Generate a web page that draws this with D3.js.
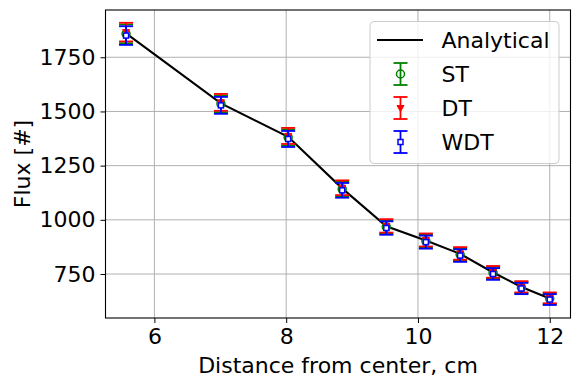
<!DOCTYPE html>
<html>
<head>
<meta charset="utf-8">
<script src="https://cdn.jsdelivr.net/npm/d3@7"></script>
<style>
    body { margin: 0; background: #fff; }
    svg { font-family: "DejaVu Sans", sans-serif; }
    .grid line { stroke: #b0b0b0; stroke-width: 1; }
    .axis path, .axis line { stroke: #000; }
</style>
</head>
<body>
<svg id="chart"></svg>
<script>
// distances (cm) and fluxes
const distances = [5.57, 7.01, 8.03, 8.85, 9.52, 10.12, 10.64, 11.14, 11.57, 12.0];
const analytical = [1860, 1537, 1383, 1145, 970, 905, 843, 757, 690, 637];
const fluxST = [1858, 1535, 1380, 1142, 967, 902, 840, 755, 687, 636];
const fluxDT = [1866, 1542, 1387, 1148, 972, 907, 845, 760, 691, 640];
const fluxWDT = [1850, 1528, 1373, 1136, 962, 897, 835, 750, 683, 632];
const errors = [43, 39, 37, 34, 31, 30, 29, 27, 26, 25];
const xTicks = [6, 8, 10, 12];
const yTicks = [750, 1000, 1250, 1500, 1750];
const seriesNames = ['ST', 'DT', 'WDT'];

class FluxChart {

    constructor(_config) {
        this.config = {
            parentElement: _config.parentElement,
            containerWidth: 579,
            containerHeight: 389,
            margin: { top: 10, right: 8.5, bottom: 71, left: 105.5 },
            fontSize: 22,
            capHalf: 7
        };
        this.series = [
            { name: 'ST', values: fluxST, color: 'green', marker: 'circle' },
            { name: 'DT', values: fluxDT, color: 'red', marker: 'triangle' },
            { name: 'WDT', values: fluxWDT, color: 'blue', marker: 'square' }
        ];
        this.initVis();
    }

    initVis() {
        let vis = this;

        vis.width = vis.config.containerWidth - vis.config.margin.left - vis.config.margin.right;
        vis.height = vis.config.containerHeight - vis.config.margin.top - vis.config.margin.bottom;

        vis.xScale = d3.scaleLinear().domain([5.258, 12.315]).range([0, vis.width]);
        vis.yScale = d3.scaleLinear().domain([547, 1968]).range([vis.height, 0]);

        vis.svg = d3.select(vis.config.parentElement)
            .attr('width', vis.config.containerWidth)
            .attr('height', vis.config.containerHeight);

        vis.chart = vis.svg.append('g')
            .attr('transform', `translate(${vis.config.margin.left},${vis.config.margin.top})`);

        // grid
        const grid = vis.chart.append('g').attr('class', 'grid');
        grid.selectAll('.vgrid').data(xTicks).join('line')
            .attr('x1', d => vis.xScale(d)).attr('x2', d => vis.xScale(d))
            .attr('y1', 0).attr('y2', vis.height);
        grid.selectAll('.hgrid').data(yTicks).join('line')
            .attr('class', 'hgrid')
            .attr('x1', 0).attr('x2', vis.width)
            .attr('y1', d => vis.yScale(d)).attr('y2', d => vis.yScale(d));

        // axes
        vis.xAxis = d3.axisBottom(vis.xScale).tickValues(xTicks).tickFormat(d3.format('d'))
            .tickSize(5).tickPadding(5).tickSizeOuter(0);
        vis.yAxis = d3.axisLeft(vis.yScale).tickValues(yTicks).tickFormat(d3.format('d'))
            .tickSize(5).tickPadding(5).tickSizeOuter(0);

        vis.xAxisG = vis.chart.append('g')
            .attr('class', 'axis x-axis')
            .attr('transform', `translate(0,${vis.height})`)
            .call(vis.xAxis);
        vis.yAxisG = vis.chart.append('g')
            .attr('class', 'axis y-axis')
            .call(vis.yAxis);

        vis.chart.selectAll('.axis')
            .attr('font-size', vis.config.fontSize)
            .attr('font-family', '"DejaVu Sans", sans-serif');
        vis.chart.selectAll('.axis .domain').remove();
        vis.chart.selectAll('.axis text').attr('fill', '#000');

        // axis titles
        vis.svg.append('text')
            .attr('x', vis.config.margin.left + vis.width / 2)
            .attr('y', 373)
            .attr('text-anchor', 'middle')
            .attr('font-size', vis.config.fontSize)
            .text('Distance from center, cm');

        vis.svg.append('text')
            .attr('transform', 'rotate(-90)')
            .attr('x', -(vis.config.margin.top + vis.height / 2))
            .attr('y', 30)
            .attr('text-anchor', 'middle')
            .attr('font-size', vis.config.fontSize)
            .text('Flux [#]');

        vis.renderVis();
    }

    drawMarker(g, type, color) {
        if (type === 'circle') {
            g.append('circle').attr('r', 4).attr('fill', 'none')
                .attr('stroke', color).attr('stroke-width', 1.5);
        } else if (type === 'triangle') {
            g.append('path').attr('d', 'M-3.5,-2.5L3.5,-2.5L0,3.5Z').attr('fill', color)
                .attr('stroke', color).attr('stroke-width', 1);
        } else {
            g.append('rect').attr('x', -2.5).attr('y', -2.5).attr('width', 5).attr('height', 5)
                .attr('fill', '#fff').attr('stroke', color).attr('stroke-width', 1.5);
        }
    }

    drawErrorBar(g, yTop, yBottom, color) {
        let vis = this;
        const c = vis.config.capHalf;
        g.append('line').attr('x1', 0).attr('x2', 0).attr('y1', yTop).attr('y2', yBottom)
            .attr('stroke', color).attr('stroke-width', 1.8);
        [yTop, yBottom].forEach(y => {
            g.append('line').attr('x1', -c).attr('x2', c).attr('y1', y).attr('y2', y)
                .attr('stroke', color).attr('stroke-width', 1.8);
        });
    }

    renderVis() {
        let vis = this;

        // analytical curve
        const line = d3.line()
            .x((d, i) => vis.xScale(distances[i]))
            .y(d => vis.yScale(d));
        vis.chart.append('path')
            .datum(analytical)
            .attr('d', line)
            .attr('fill', 'none')
            .attr('stroke', '#000')
            .attr('stroke-width', 2.1);

        // errorbar series
        vis.series.forEach(s => {
            const pts = vis.chart.append('g').selectAll('g')
                .data(s.values)
                .join('g')
                .attr('transform', (d, i) => `translate(${vis.xScale(distances[i])},${vis.yScale(d)})`);
            pts.each(function(d, i) {
                const g = d3.select(this);
                vis.drawErrorBar(g, vis.yScale(d + errors[i]) - vis.yScale(d),
                    vis.yScale(d - errors[i]) - vis.yScale(d), s.color);
                vis.drawMarker(g, s.marker, s.color);
            });
        });

        // frame
        vis.chart.append('rect')
            .attr('width', vis.width).attr('height', vis.height)
            .attr('fill', 'none').attr('stroke', '#000').attr('stroke-width', 1.1);

        vis.renderLegend();
    }

    renderLegend() {
        let vis = this;
        const legend = vis.svg.append('g').attr('class', 'legend');

        legend.append('rect')
            .attr('x', 370).attr('y', 21.5)
            .attr('width', 189).attr('height', 142)
            .attr('rx', 4)
            .attr('fill', 'rgba(255,255,255,0.8)')
            .attr('stroke', '#cccccc').attr('stroke-width', 1);

        const labels = ['Analytical'].concat(seriesNames);
        const rows = legend.selectAll('.legend-entry')
            .data(labels)
            .join('g')
            .attr('class', 'legend-entry')
            .attr('transform', (d, i) => `translate(0,${40 + i * 34})`);

        rows.append('text')
            .attr('x', 441.5)
            .attr('dy', '0.36em')
            .attr('font-size', vis.config.fontSize)
            .text(d => d);

        rows.each(function(d, i) {
            const g = d3.select(this);
            if (i === 0) {
                g.append('line').attr('x1', 377).attr('x2', 423).attr('y1', 0).attr('y2', 0)
                    .attr('stroke', '#000').attr('stroke-width', 2.1);
            } else {
                const s = vis.series[i - 1];
                const h = g.append('g').attr('transform', 'translate(400.5,0)');
                vis.drawErrorBar(h, -11, 11, s.color);
                vis.drawMarker(h, s.marker, s.color);
            }
        });
    }
}

new FluxChart({ parentElement: '#chart' });
</script>
</body>
</html>
